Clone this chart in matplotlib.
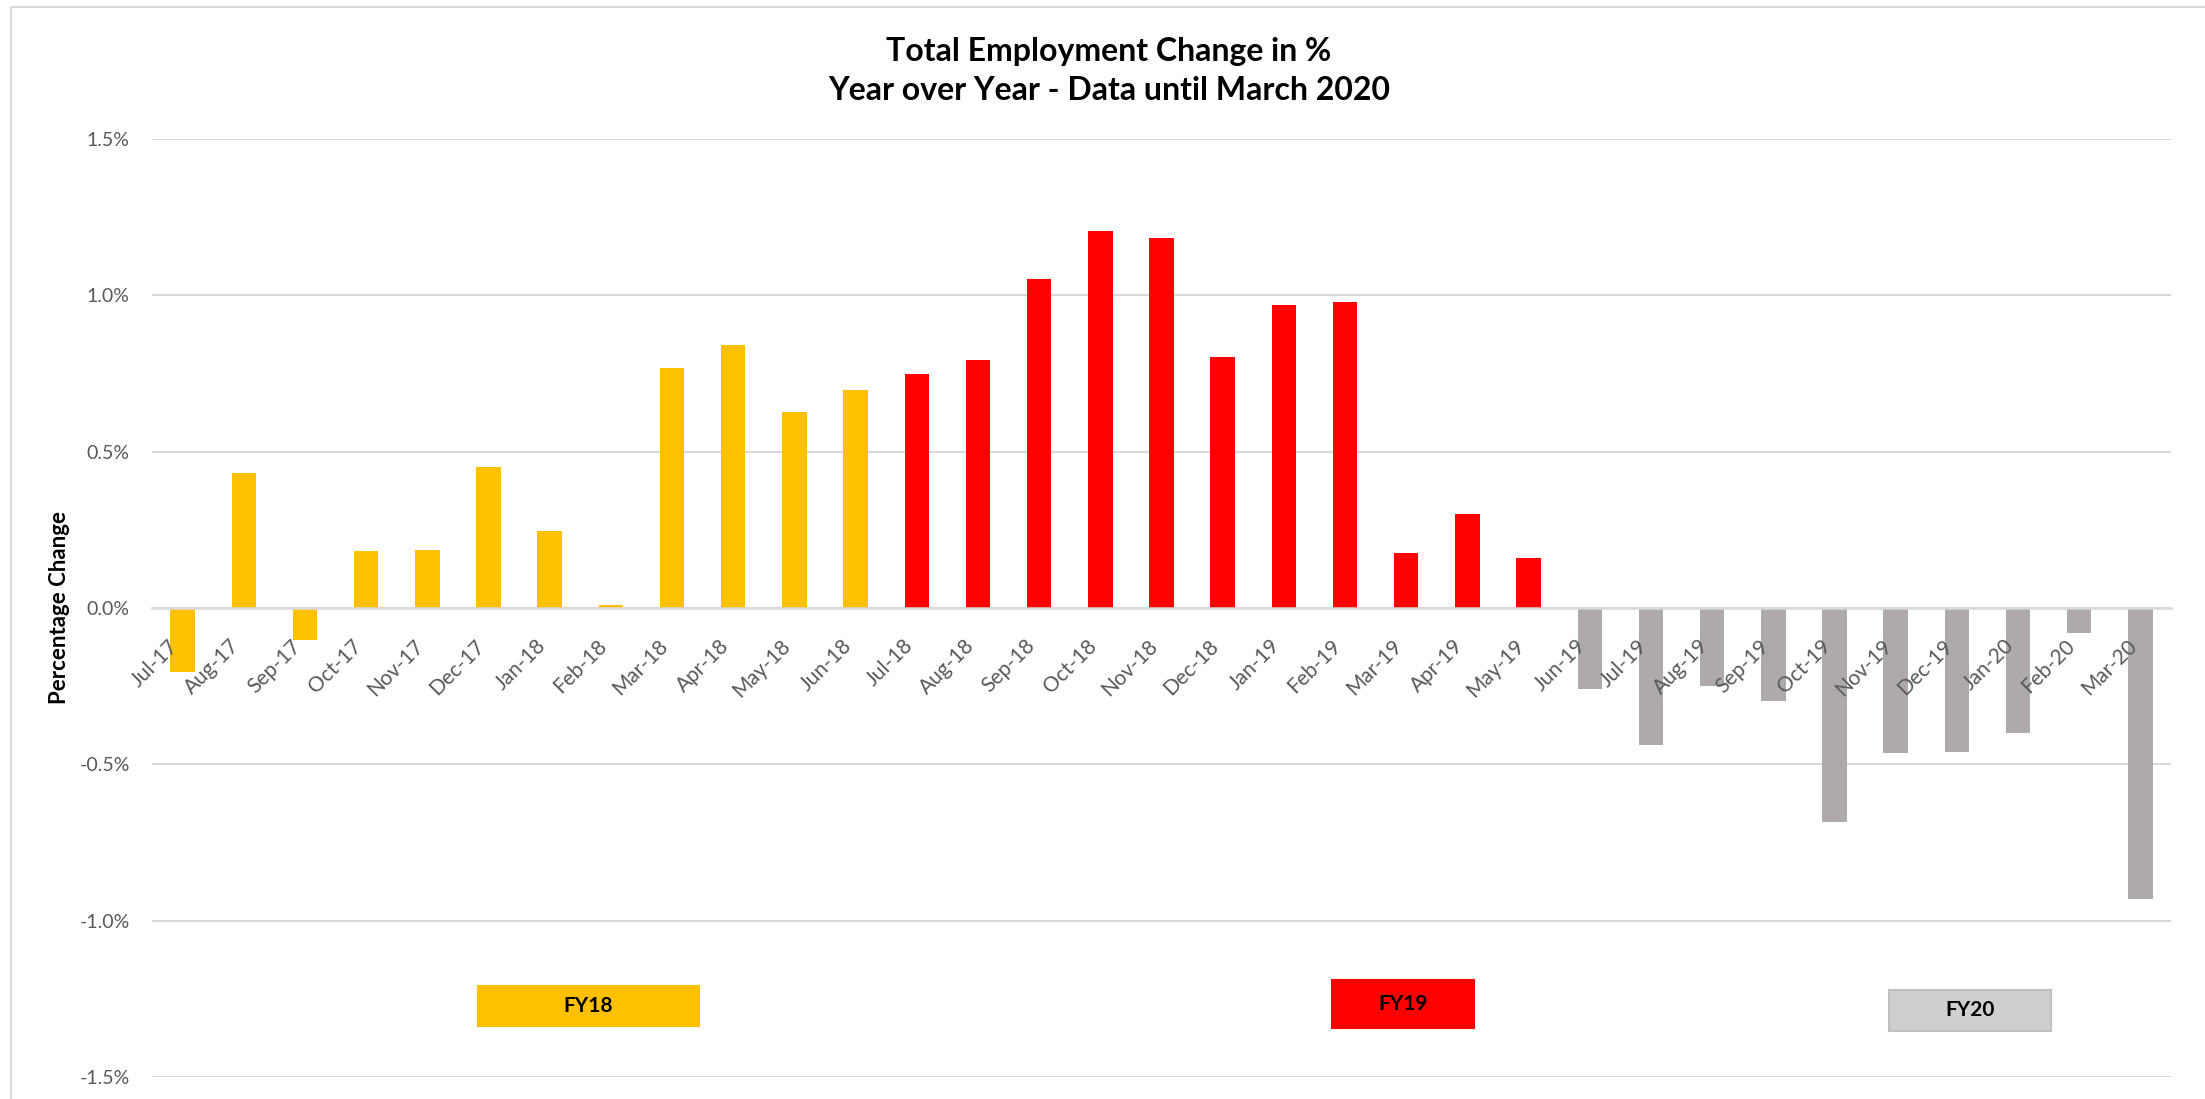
import matplotlib
matplotlib.use("Agg")
import matplotlib.pyplot as plt
from matplotlib.patches import Rectangle
from matplotlib.lines import Line2D
from matplotlib.ticker import FuncFormatter

plt.rcParams['font.family'] = ['Lato', 'DejaVu Sans']

months = ["Jul-17", "Aug-17", "Sep-17", "Oct-17", "Nov-17", "Dec-17", "Jan-18", "Feb-18",
          "Mar-18", "Apr-18", "May-18", "Jun-18", "Jul-18", "Aug-18", "Sep-18", "Oct-18",
          "Nov-18", "Dec-18", "Jan-19", "Feb-19", "Mar-19", "Apr-19", "May-19", "Jun-19",
          "Jul-19", "Aug-19", "Sep-19", "Oct-19", "Nov-19", "Dec-19", "Jan-20", "Feb-20",
          "Mar-20"]
values = [-0.205, 0.431, -0.102, 0.181, 0.185, 0.451, 0.246, 0.009,
          0.768, 0.842, 0.627, 0.697, 0.749, 0.794, 1.053, 1.207,
          1.184, 0.803, 0.969, 0.979, 0.175, 0.300, 0.159, -0.260,
          -0.437, -0.248, -0.296, -0.686, -0.465, -0.462, -0.401, -0.081,
          -0.930]
fiscal_year = ["FY18"] * 12 + ["FY19"] * 11 + ["FY20"] * 10
fy_names = ["FY18", "FY19", "FY20"]
fy_colors = {"FY18": "#FFC000", "FY19": "#FF0000", "FY20": "#AEAAAA"}
yticks = [-1.5, -1.0, -0.5, 0.0, 0.5, 1.0, 1.5]

W, H = 2205, 1099
fig = plt.figure(figsize=(W / 100, H / 100), dpi=100)
ax = fig.add_axes([152 / W, 1 - 1077 / H, (2171 - 152) / W, (1077 - 139) / H])

for yv in yticks:
    ax.axhline(yv, color='#D9D9D9', linewidth=1.5, zorder=1)

x = list(range(len(months)))
ax.bar(x, values, width=0.4, color=[fy_colors[f] for f in fiscal_year], zorder=2)

ax.set_xlim(-0.5, len(months) - 0.5)
ax.set_ylim(-1.5, 1.5)
ax.set_yticks(yticks)
ax.yaxis.set_major_formatter(FuncFormatter(lambda v, p: f"{v:.1f}%"))
ax.set_axisbelow(False)

for s in ['top', 'right', 'left']:
    ax.spines[s].set_visible(False)
ax.spines['bottom'].set_position(('data', 0))
ax.spines['bottom'].set_color('#D9D9D9')
ax.spines['bottom'].set_linewidth(1.8)
ax.spines['bottom'].set_zorder(3)

ax.set_xticks(x)
ax.set_xticklabels(months, rotation=45, ha='right', rotation_mode='default')
ax.tick_params(axis='x', length=0, pad=20, labelsize=15, labelcolor='#595959')
ax.tick_params(axis='y', length=0, pad=16, labelsize=14, labelcolor='#595959')
for lbl in ax.get_xticklabels():
    lbl.set_zorder(4)

fig.text(1109 / W, 1 - 61 / H, "Total Employment Change in %", ha='center', va='baseline',
         fontsize=23, fontweight='bold', color='black')
fig.text(1109 / W, 1 - 100 / H, "Year over Year - Data until March 2020", ha='center', va='baseline',
         fontsize=23, fontweight='bold', color='black')
fig.text(59 / W, 1 - 608 / H, "Percentage Change", rotation=90, ha='center', va='center',
         fontsize=16, fontweight='bold', color='black')

# fiscal-year labels (text boxes)
boxes = {"FY18": (478, 986, 699, 1026, "#FFC000", "#FFC000"),
         "FY19": (1332, 980, 1474, 1028, "#FF0000", "#FF0000"),
         "FY20": (1889, 990, 2051, 1031, "#D0CECE", "#BFBFBF")}
for name in fy_names:
    x0, y0, x1, y1, fc, ec = boxes[name]
    fig.add_artist(Rectangle((x0 / W, 1 - y1 / H), (x1 - x0) / W, (y1 - y0) / H,
                             facecolor=fc, edgecolor=ec, linewidth=1.5,
                             transform=fig.transFigure))
    fig.text((x0 + x1) / 2 / W, 1 - (y0 + y1) / 2 / H, name, ha='center', va='center',
             fontsize=15, fontweight='bold', color='black')

# chart border
fig.add_artist(Line2D([11 / W, 11 / W], [0, 1 - 7 / H], color='#D9D9D9', linewidth=1.5,
                      transform=fig.transFigure))
fig.add_artist(Line2D([11 / W, 1], [1 - 7 / H, 1 - 7 / H], color='#D9D9D9', linewidth=1.5,
                      transform=fig.transFigure))

fig.savefig("out.png", dpi=100, facecolor='white')
